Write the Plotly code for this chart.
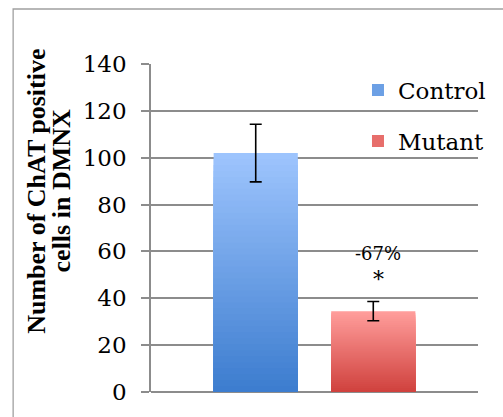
import plotly.graph_objects as go

# ---------------- data ----------------
groups = ["Control", "Mutant"]
values = [102.0, 34.5]
errors = [12.3, 4.1]
y_ticks = [0, 20, 40, 60, 80, 100, 120, 140]
change_label = "-67%"
sig_label = "*"
y_title_lines = ["Number of ChAT positive", "cells in DMNX"]

# ---------------- style ----------------
FONT = "DejaVu Serif"
TITLE_FONT = "Liberation Serif"
GRID = "#8c8c8c"
top_colors = [(157, 196, 253), (255, 157, 155)]
bottom_colors = [(61, 125, 207), (208, 66, 62)]
N_SHADES = 40


def mix(c1, c2, t):
    return "rgb(%d,%d,%d)" % tuple(round(a + (b - a) * t) for a, b in zip(c1, c2))


fig = go.Figure()

# gradient-filled bars (stacked overlays of the same bar, lighter on top)
for g, v, ct, cb in zip(groups, values, top_colors, bottom_colors):
    for k in range(N_SHADES):
        frac = (N_SHADES - k) / N_SHADES
        col = mix(ct, cb, k / (N_SHADES - 1))
        fig.add_trace(go.Bar(
            x=[""], y=[v * frac], offsetgroup=g, name=g, legendgroup=g,
            showlegend=(k == N_SHADES // 2),
            marker=dict(color=col, line=dict(width=0)),
            hoverinfo="skip",
        ))

# data bars with error bars (transparent fill, drawn last)
for g, v, e in zip(groups, values, errors):
    fig.add_trace(go.Bar(
        x=[""], y=[v], offsetgroup=g, name=g, legendgroup=g, showlegend=False,
        marker=dict(color="rgba(0,0,0,0)", line=dict(width=0)),
        error_y=dict(type="data", array=[e], color="black", thickness=1.6, width=6),
    ))

annotations = [
    dict(text=change_label, x=0.695, y=59.2, xref="paper", yref="y",
         xanchor="center", yanchor="middle",
         showarrow=False, font=dict(family=FONT, size=18, color="black")),
    dict(text=sig_label, x=0.695, y=48.0, xref="paper", yref="y",
         xanchor="center", yanchor="middle",
         showarrow=False, font=dict(family=FONT, size=22, color="black")),
    dict(text="<b>%s</b>" % y_title_lines[0], x=-0.349, y=0.613, xref="paper", yref="paper",
         textangle=-90, showarrow=False, xanchor="center", yanchor="middle",
         font=dict(family=TITLE_FONT, size=26, color="black")),
    dict(text="<b>%s</b>" % y_title_lines[1], x=-0.2737, y=0.613, xref="paper", yref="paper",
         textangle=-90, showarrow=False, xanchor="center", yanchor="middle",
         font=dict(family=TITLE_FONT, size=26, color="black")),
]

fig.update_layout(
    width=503, height=417,
    margin=dict(l=151, r=14, t=64, b=22),
    paper_bgcolor="white", plot_bgcolor="white",
    barmode="group", bargap=0.281, bargroupgap=0.284,
    font=dict(family=FONT, color="black"),
    showlegend=True,
    legend=dict(
        x=0.633, y=0.986, xanchor="left", yanchor="top",
        font=dict(family=FONT, size=23, color="black"),
        bgcolor="rgba(0,0,0,0)", tracegroupgap=18, traceorder="grouped",
    ),
    annotations=annotations,
    shapes=[dict(type="rect", xref="paper", yref="paper",
                 x0=-0.4216, x1=1.2, y0=-0.2, y1=1.1677,
                 line=dict(color="#a0a0a0", width=1.3), fillcolor="rgba(0,0,0,0)",
                 layer="below")],
)

fig.update_xaxes(type="category", range=[-0.5, 0.5], showticklabels=False,
                 showgrid=False, zeroline=False, showline=False, ticks="")
fig.update_yaxes(range=[0, 140], tickvals=y_ticks, showgrid=True, gridcolor=GRID,
                 gridwidth=1.5, zeroline=True, zerolinecolor=GRID, zerolinewidth=1.5,
                 showline=True, linecolor=GRID, linewidth=1.5,
                 ticks="outside", ticklen=8, tickcolor=GRID, tickwidth=1.5,
                 ticklabelstandoff=10,
                 tickfont=dict(family=FONT, size=23, color="black"))

fig.write_html("out.html", config={"displayModeBar": False},
               post_script="document.body.style.margin='0px';")
